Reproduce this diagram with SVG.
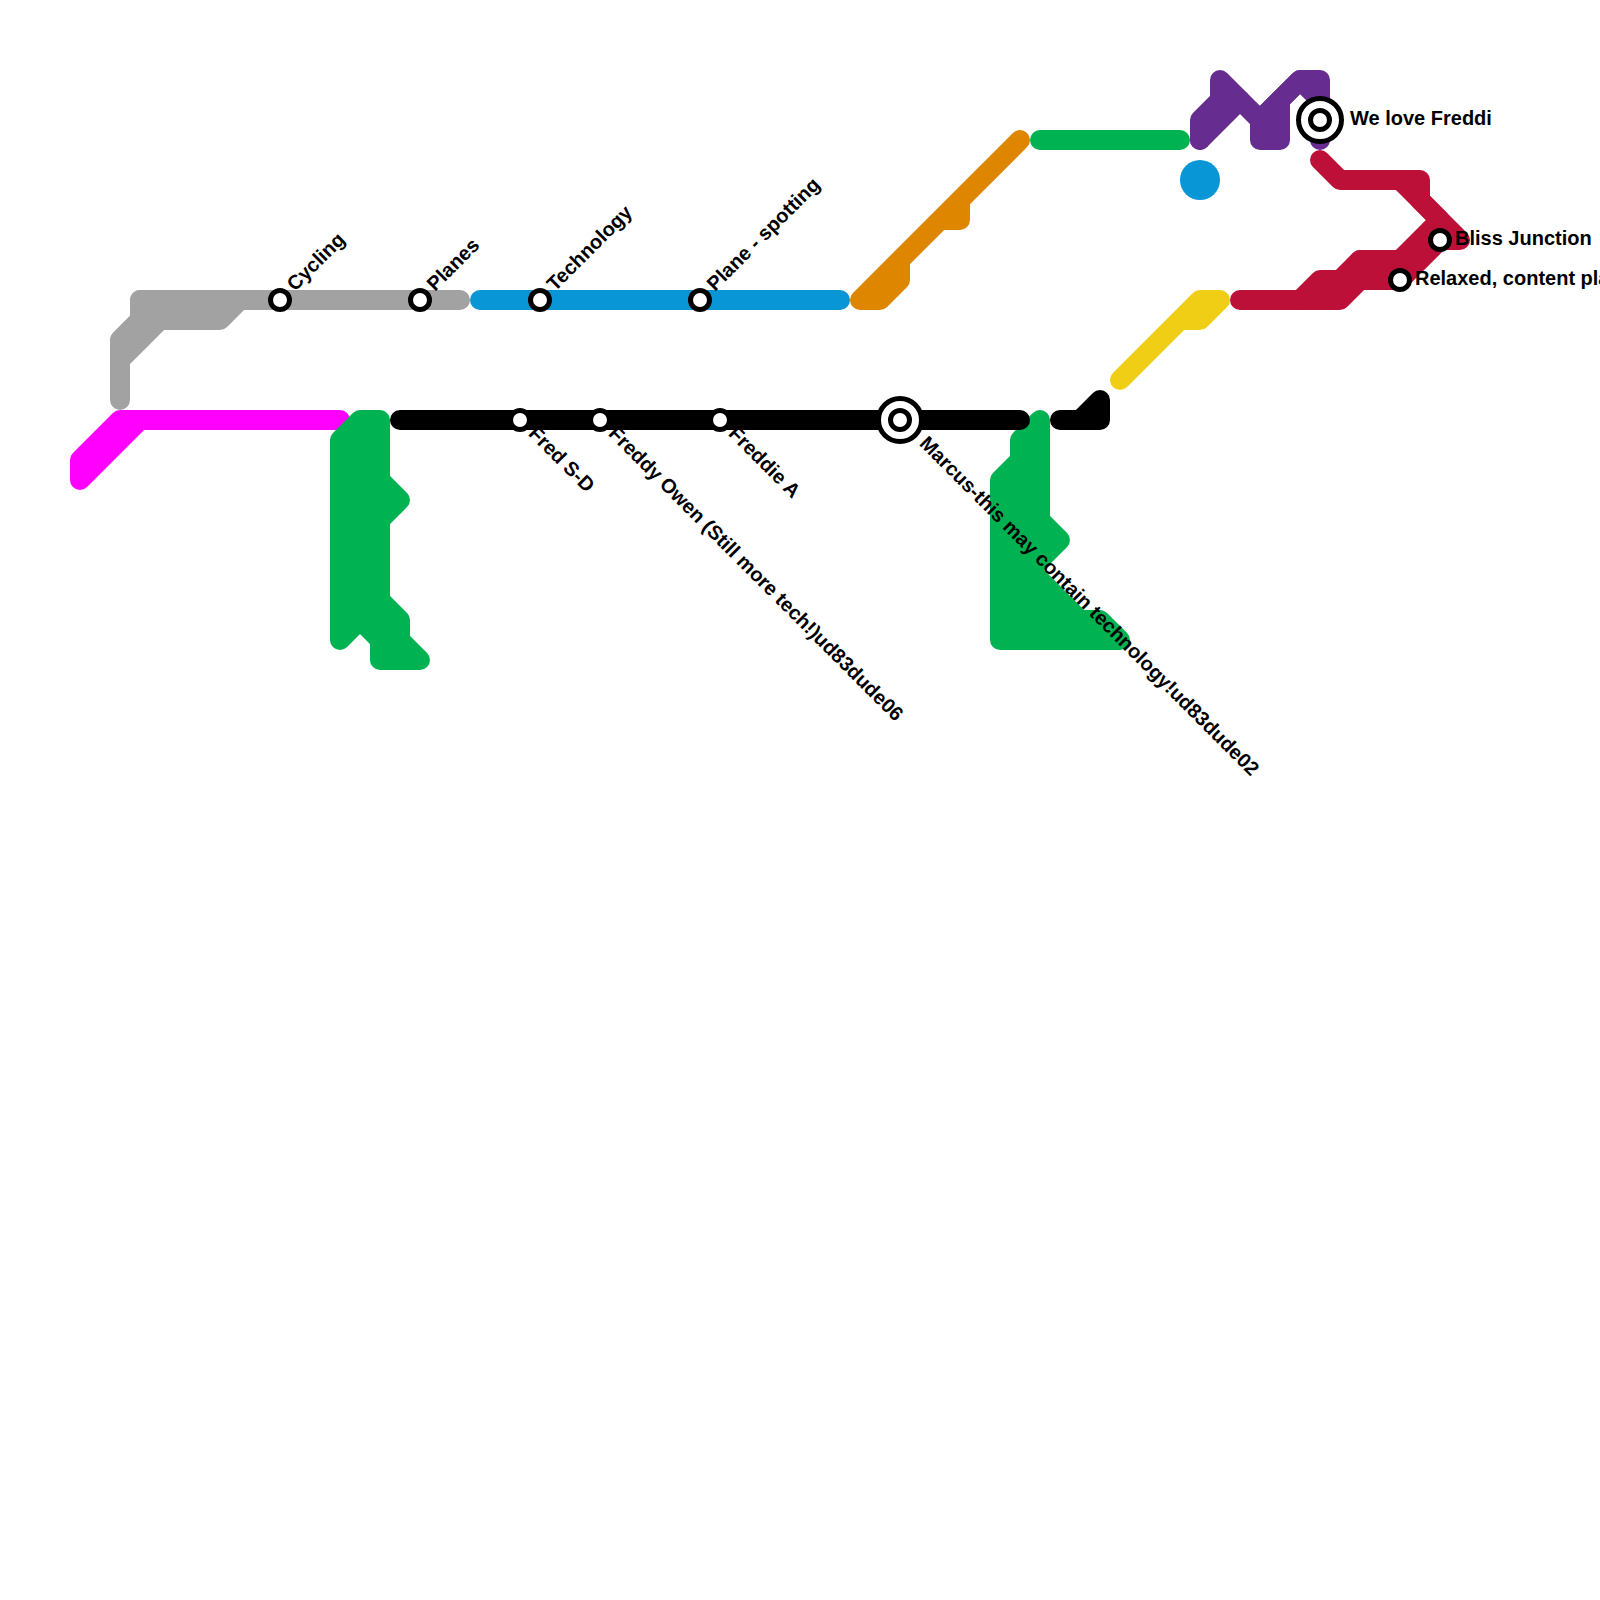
<svg xmlns="http://www.w3.org/2000/svg" width="1600" height="1600" viewBox="0 0 1600 1600">
<style>
.l{fill:none;stroke-width:20;stroke-linecap:round;stroke-linejoin:round}
.f{stroke-width:20;stroke-linejoin:round;stroke-linecap:round}
.st{fill:#fff;stroke:#000;stroke-width:5}
text{font-family:"Liberation Sans",Arial,sans-serif;font-weight:bold;font-size:20px;fill:#000}
</style>
<rect width="1600" height="1600" fill="#fff"/>
<g id="connectors">
<g id="line-grey" stroke="#a2a2a2">
<path class="l" d="M120 400V340L140 320V300H460"/>
<path class="f" fill="#a2a2a2" d="M120 360L160 320H220L240 300H140V320L120 340Z"/>
</g>
<g id="line-magenta" stroke="#f0f">
<path class="f" fill="#f0f" d="M80 480V460L120 420H340H140Z"/>
</g>
<g id="line-green-left" stroke="#00b251">
<path class="f" fill="#00b251" d="M340 640V440L360 420H380V480L400 500L380 520V600L400 620V640L420 660H380V640L360 620Z"/>
</g>
<g id="line-green-right" stroke="#00b251">
<path class="f" fill="#00b251" d="M1000 640V480L1020 460V440L1040 420V520L1060 540L1030 570L1080 620H1100L1120 640Z"/>
</g>
<path id="line-green-top" class="l" stroke="#00b251" d="M1040 140H1180"/>
<path id="line-blue" class="l" stroke="#0896d7" d="M480 300H840"/>
<circle id="line-blue-dot" cx="1200" cy="180" r="20" fill="#0896d7"/>
<path id="line-black-main" class="l" stroke="#000" d="M400 420H1020"/>
<path id="line-black-end" class="f" stroke="#000" fill="#000" d="M1060 420H1100V400L1080 420Z"/>
<path id="line-orange" class="f" stroke="#df8600" fill="#df8600" d="M860 300L1020 140L960 200V220H940L900 260V280L880 300Z"/>
<path id="line-yellow" class="f" stroke="#f0ce15" fill="#f0ce15" d="M1120 380L1200 300H1220L1200 320H1180Z"/>
<g id="line-purple" stroke="#662c90">
<path class="l" d="M1200 140V120L1220 100V80L1260 120L1300 80H1320V140"/>
<path class="l" d="M1200 140L1240 100"/>
<path class="f" fill="#662c90" d="M1260 120V140H1280V100Z"/>
<path class="l" d="M1280 100L1300 80L1320 100"/>
</g>
<g id="line-crimson" stroke="#bd1038">
<path class="l" d="M1320 160L1340 180H1420V200L1460 240H1440L1400 280H1360L1340 300H1240"/>
<path class="l" d="M1400 180L1440 220L1400 260H1360L1340 280H1320L1300 300"/>
<path class="f" fill="#bd1038" d="M1360 260H1400V280H1360Z"/>
</g>
</g>
<g id="station-cycling"><circle class="st" cx="280" cy="300" r="9.5"/><text transform="translate(295 292) rotate(-45)">Cycling</text></g>
<g id="station-planes"><circle class="st" cx="420" cy="300" r="9.5"/><text transform="translate(435 292) rotate(-45)">Planes</text></g>
<g id="station-technology"><circle class="st" cx="540" cy="300" r="9.5"/><text transform="translate(555 292) rotate(-45)">Technology</text></g>
<g id="station-plane-spotting"><circle class="st" cx="700" cy="300" r="9.5"/><text transform="translate(715 292) rotate(-45)">Plane - spotting</text></g>
<g id="station-fred"><circle class="st" cx="520" cy="420" r="9.5"/><text transform="translate(527.5 434.5) rotate(45)">Fred S-D</text></g>
<g id="station-freddy"><circle class="st" cx="600" cy="420" r="9.5"/><text transform="translate(607.5 434.5) rotate(45)">Freddy Owen (Still more tech!)ud83dude06</text></g>
<g id="station-freddie"><circle class="st" cx="720" cy="420" r="9.5"/><text transform="translate(727.5 434.5) rotate(45)">Freddie A</text></g>
<g id="station-marcus"><circle class="st" cx="900" cy="420" r="21.5"/><circle class="st" cx="900" cy="420" r="9.5"/><text transform="translate(918.5 444.5) rotate(45)">Marcus-this may contain technology!ud83dude02</text></g>
<g id="station-we-love"><circle class="st" cx="1320" cy="120" r="21.5"/><circle class="st" cx="1320" cy="120" r="9.5"/><text x="1350" y="125">We love Freddi</text></g>
<g id="station-bliss"><circle class="st" cx="1440" cy="240" r="9.5"/><text x="1455" y="245">Bliss Junction</text></g>
<g id="station-relaxed"><circle class="st" cx="1400" cy="280" r="9.5"/><text x="1415" y="285">Relaxed, content pla</text></g>
</svg>
